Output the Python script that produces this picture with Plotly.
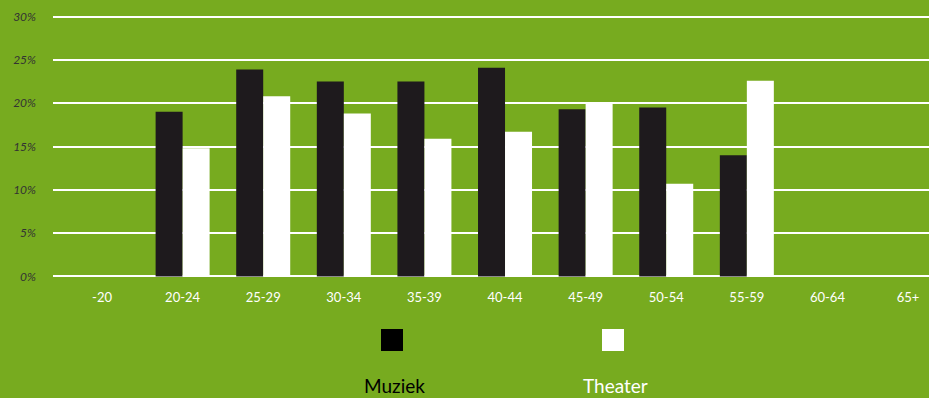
import plotly.graph_objects as go

categories = ["-20", "20-24", "25-29", "30-34", "35-39", "40-44", "45-49", "50-54", "55-59", "60-64", "65+"]
muziek = [None, 19.0, 23.9, 22.5, 22.5, 24.1, 19.3, 19.5, 14.0, None, None]
theater = [None, 14.8, 20.8, 18.8, 15.9, 16.7, 20.0, 10.7, 22.6, None, None]
y_ticks = [0, 5, 10, 15, 20, 25, 30]
y_tick_labels = ["0%", "5%", "10%", "15%", "20%", "25%", "30%"]

GREEN = "#77AB1F"
DARK = "#1E1A1D"

fig = go.Figure()
fig.add_trace(go.Bar(x=list(range(len(categories))), y=muziek, name="Muziek",
                     marker=dict(color=DARK, line=dict(width=0))))
fig.add_trace(go.Bar(x=list(range(len(categories))), y=theater, name="Theater",
                     marker=dict(color="#FFFFFF", line=dict(width=0))))

fig.update_layout(
    width=929, height=398,
    margin=dict(l=53, r=0, t=14, b=119),
    paper_bgcolor=GREEN, plot_bgcolor=GREEN,
    barmode="group", bargap=0.33, bargroupgap=0,
    showlegend=False,
    xaxis=dict(range=[-0.608, 10.26], tickmode="array",
               tickvals=list(range(len(categories))), ticktext=categories,
               showgrid=False, zeroline=False, showline=False,
               tickfont=dict(family="Lato", size=13, color="#FFFFFF"),
               ticks="", ticklabelstandoff=9),
    yaxis=dict(range=[-0.3, 30.3], tickmode="array", tickvals=y_ticks,
               ticktext=y_tick_labels, showgrid=True, gridcolor="#FFFFFF",
               gridwidth=2, zeroline=False, showline=False, ticks="",
               tickfont=dict(family="Lato", size=12, color="#333333", style="italic"),
               ticklabelstandoff=16),
)

# custom legend: swatches above labels
legend_items = [("Muziek", "#000000", "#000000", 392), ("Theater", "#FFFFFF", "#FFFFFF", 613)]
for name, sw, tc, cx in legend_items:
    fig.add_shape(type="rect", xref="paper", yref="paper",
                  x0=(cx - 11 - 53) / 876, x1=(cx + 11 - 53) / 876,
                  y0=(398 - 119 - 351) / 265, y1=(398 - 119 - 329) / 265,
                  fillcolor=sw, line=dict(width=0))
    fig.add_annotation(text=name, xref="paper", yref="paper",
                       x=(cx + 2 - 53) / 876, y=(398 - 119 - 385) / 265,
                       showarrow=False, xanchor="center", yanchor="middle",
                       font=dict(family="Lato", size=19, color=tc))

fig.write_html("out.html")
